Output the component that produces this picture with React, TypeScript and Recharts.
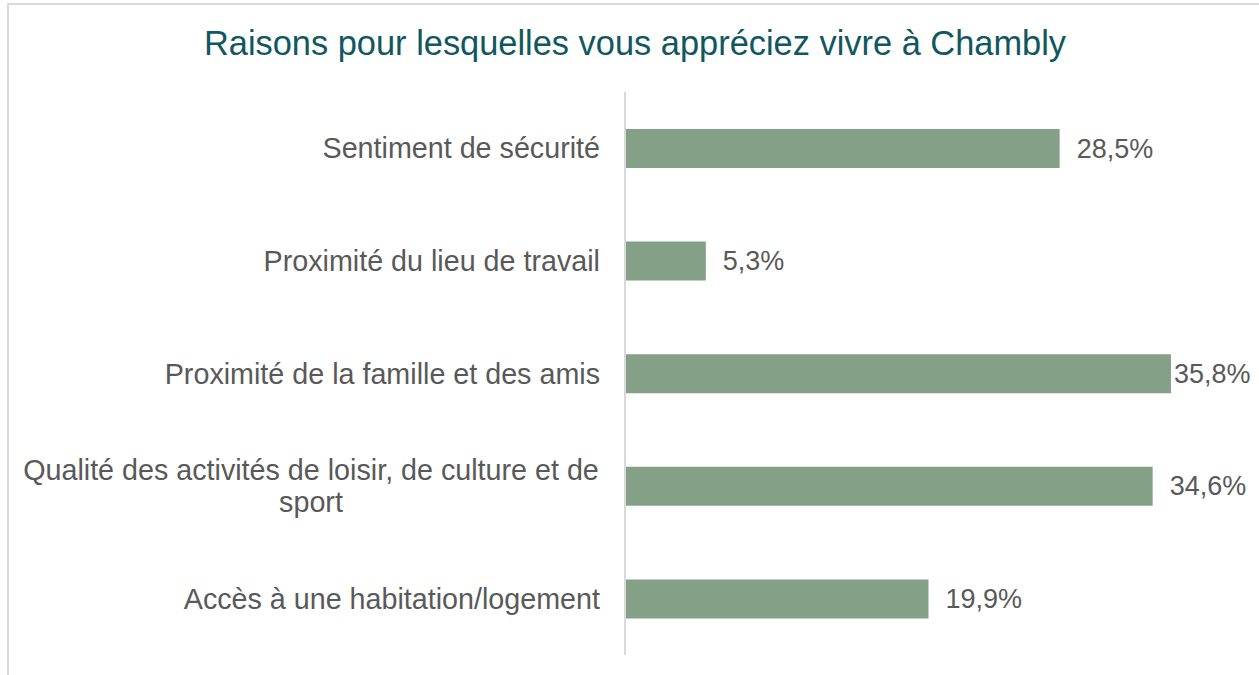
import { BarChart, Bar, XAxis, YAxis, LabelList } from 'recharts';

const categories = [
  'Sentiment de sécurité',
  'Proximité du lieu de travail',
  'Proximité de la famille et des amis',
  'Qualité des activités de loisir, de culture et de sport',
  'Accès à une habitation/logement',
];
const values = [28.5, 5.3, 35.8, 34.6, 19.9];
const xTicks = [0, 10, 20, 30, 40];

const CHART_W = 1259;
const CHART_H = 675;
const TEXT = '#595959';
const FONT = '"Liberation Sans", Arial, sans-serif';

const data = categories.map((name, i) => ({ name, value: values[i] }));

const wrap = (label: string, max: number) => {
  const words = label.split(' ');
  const lines: string[] = [];
  let cur = '';
  words.forEach((w) => {
    const next = cur ? `${cur} ${w}` : w;
    if (next.length > max && cur) {
      lines.push(cur);
      cur = w;
    } else {
      cur = next;
    }
  });
  if (cur) lines.push(cur);
  return lines;
};

const CategoryTick = (props: any) => {
  const { x, y, payload } = props;
  const lines = wrap(payload.value, 50);
  if (lines.length === 1) {
    return (
      <text x={x} y={y} textAnchor="end" dominantBaseline="central" fill={TEXT} fontSize={28.7} fontFamily={FONT}>
        {lines[0]}
      </text>
    );
  }
  const lh = 32;
  const top = y - ((lines.length - 1) * lh) / 2;
  return (
    <text x={x - 289} y={top} textAnchor="middle" fill={TEXT} fontSize={28.7} fontFamily={FONT}>
      {lines.map((l, i) => (
        <tspan key={i} x={x - 289} y={top + i * lh} dominantBaseline="central">
          {l}
        </tspan>
      ))}
    </text>
  );
};

const ValueLabel = (props: any) => {
  const { x, y, width, height, value } = props;
  const tx = Math.min(x + width + 17, CHART_W - 85);
  return (
    <text x={tx} y={y + height / 2} dominantBaseline="central" fill={TEXT} fontSize={27} fontFamily={FONT}>
      {`${value.toFixed(1).replace('.', ',')}%`}
    </text>
  );
};

export default function App() {
  return (
    <div style={{ position: 'absolute', left: 0, top: 0, width: CHART_W, height: CHART_H, overflow: 'hidden', background: '#fff' }}>
      <div
        style={{
          position: 'absolute',
          left: 7,
          top: 3,
          width: 1300,
          height: 700,
          borderTop: '2px solid #d9d9d9',
          borderLeft: '2px solid #d9d9d9',
        }}
      />
      <div
        style={{
          position: 'absolute',
          left: 0,
          top: 26,
          width: 1270,
          textAlign: 'center',
          fontFamily: FONT,
          fontSize: 34.4,
          lineHeight: '34px',
          color: '#115761',
        }}
      >
        Raisons pour lesquelles vous appréciez vivre à Chambly
      </div>
      <div style={{ position: 'absolute', left: 0, top: 0 }}>
        <BarChart
          width={CHART_W}
          height={CHART_H}
          data={data}
          layout="vertical"
          margin={{ top: 92, right: 24, bottom: 20, left: 0 }}
        >
          <XAxis type="number" domain={[0, 40]} ticks={xTicks} hide />
          <YAxis
            type="category"
            dataKey="name"
            width={625}
            axisLine={{ stroke: '#d9d9d9', strokeWidth: 2 }}
            tickLine={false}
            tickSize={0}
            tickMargin={25}
            tick={<CategoryTick />}
            interval={0}
          />
          <Bar dataKey="value" fill="#84a187" barSize={39} isAnimationActive={false}>
            <LabelList dataKey="value" content={<ValueLabel />} />
          </Bar>
        </BarChart>
      </div>
    </div>
  );
}
